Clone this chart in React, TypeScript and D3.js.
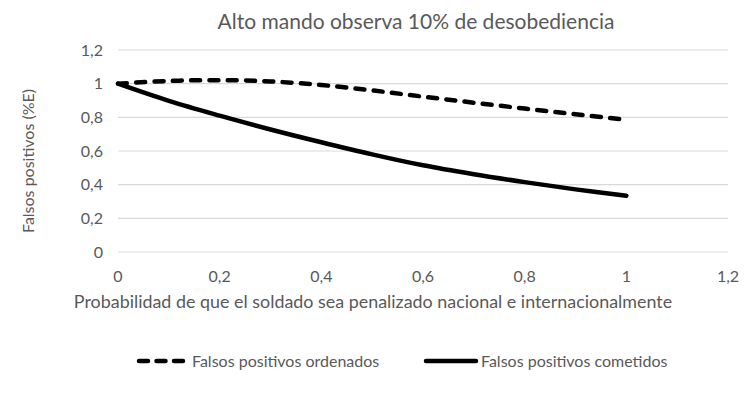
import { useEffect, useRef } from 'react';
import * as d3 from 'd3';

const xValues = [0, 0.1, 0.2, 0.3, 0.4, 0.5, 0.6, 0.7, 0.8, 0.9, 1];
const ordenados = [1.0, 1.016, 1.021, 1.013, 0.992, 0.96, 0.923, 0.887, 0.852, 0.818, 0.786];
const cometidos = [1.0, 0.898, 0.81, 0.728, 0.652, 0.58, 0.515, 0.462, 0.415, 0.372, 0.334];
const xTicks = [0, 0.2, 0.4, 0.6, 0.8, 1, 1.2];
const yTicks = [0, 0.2, 0.4, 0.6, 0.8, 1, 1.2];

const title = 'Alto mando observa 10% de desobediencia';
const xTitle = 'Probabilidad de que el soldado sea penalizado nacional e internacionalmente';
const yTitle = 'Falsos positivos (%E)';
const seriesNames = ['Falsos positivos ordenados', 'Falsos positivos cometidos'];

const W = 756;
const H = 396;
const FONT = 'Lato, "Open Sans", sans-serif';
const GRAY = '#595959';

export default function App() {
    const svgRef = useRef<SVGSVGElement>(null);

    useEffect(() => {
        if (!svgRef.current) return;
        const svg = d3.select(svgRef.current);
        svg.selectAll('*').remove();

        const margin = { top: 50, right: 28, bottom: 144, left: 118 };
        const innerWidth = W - margin.left - margin.right;
        const innerHeight = H - margin.top - margin.bottom;

        const x = d3.scaleLinear().domain([0, 1.2]).range([0, innerWidth]);
        const y = d3.scaleLinear().domain([0, 1.2]).range([innerHeight, 0]);
        const fmt = (d: number) => d3.format('~g')(d).replace('.', ',');

        svg.append('rect').attr('width', W).attr('height', H).attr('fill', '#fff');

        // title
        svg.append('text')
            .attr('x', 416).attr('y', 29)
            .attr('text-anchor', 'middle')
            .attr('font-family', FONT).attr('font-size', 21)
            .attr('fill', GRAY)
            .text(title);

        const g = svg.append('g')
            .attr('transform', `translate(${margin.left},${margin.top})`);

        // grid
        g.selectAll('.grid')
            .data(yTicks)
            .join('line')
            .attr('x1', 0).attr('x2', innerWidth)
            .attr('y1', d => y(d)).attr('y2', d => y(d))
            .attr('stroke', '#d9d9d9').attr('stroke-width', 1.2);

        // y tick labels
        g.selectAll('.ylab')
            .data(yTicks)
            .join('text')
            .attr('x', -15).attr('y', d => y(d) + 5.5)
            .attr('text-anchor', 'end')
            .attr('font-family', FONT).attr('font-size', 16)
            .attr('fill', GRAY)
            .text(fmt);

        // x tick labels
        g.selectAll('.xlab')
            .data(xTicks)
            .join('text')
            .attr('x', d => x(d)).attr('y', innerHeight + 30)
            .attr('text-anchor', 'middle')
            .attr('font-family', FONT).attr('font-size', 16)
            .attr('fill', GRAY)
            .text(fmt);

        // axis titles
        svg.append('text')
            .attr('x', 373).attr('y', 308)
            .attr('text-anchor', 'middle')
            .attr('font-family', FONT).attr('font-size', 17.9)
            .attr('fill', GRAY)
            .text(xTitle);

        svg.append('text')
            .attr('transform', 'translate(34,161) rotate(-90)')
            .attr('text-anchor', 'middle')
            .attr('font-family', FONT).attr('font-size', 16)
            .attr('fill', GRAY)
            .text(yTitle);

        const line = d3.line<number>()
            .x((_, i) => x(xValues[i]))
            .y(d => y(d))
            .curve(d3.curveCatmullRom.alpha(0.5));

        g.append('path')
            .attr('d', line(ordenados))
            .attr('fill', 'none')
            .attr('stroke', '#000')
            .attr('stroke-width', 4.5)
            .attr('stroke-linecap', 'round')
            .attr('stroke-dasharray', '9 9.3');

        g.append('path')
            .attr('d', line(cometidos))
            .attr('fill', 'none')
            .attr('stroke', '#000')
            .attr('stroke-width', 4.5)
            .attr('stroke-linecap', 'round');

        // legend
        const legend = svg.append('g').attr('transform', 'translate(0,361)');
        legend.append('line')
            .attr('x1', 139).attr('x2', 183).attr('y1', 0).attr('y2', 0)
            .attr('stroke', '#000').attr('stroke-width', 4.5)
            .attr('stroke-linecap', 'round')
            .attr('stroke-dasharray', '9 8.5');
        legend.append('text')
            .attr('x', 192).attr('y', 5.5)
            .attr('font-family', FONT).attr('font-size', 16)
            .attr('fill', GRAY)
            .text(seriesNames[0]);
        legend.append('line')
            .attr('x1', 426).attr('x2', 476).attr('y1', 0).attr('y2', 0)
            .attr('stroke', '#000').attr('stroke-width', 4.5)
            .attr('stroke-linecap', 'round');
        legend.append('text')
            .attr('x', 481).attr('y', 5.5)
            .attr('font-family', FONT).attr('font-size', 16)
            .attr('fill', GRAY)
            .text(seriesNames[1]);
    }, []);

    return (
        <svg
            ref={svgRef}
            width={W}
            height={H}
            style={{ position: 'absolute', left: 0, top: 0, display: 'block' }}
        />
    );
}
